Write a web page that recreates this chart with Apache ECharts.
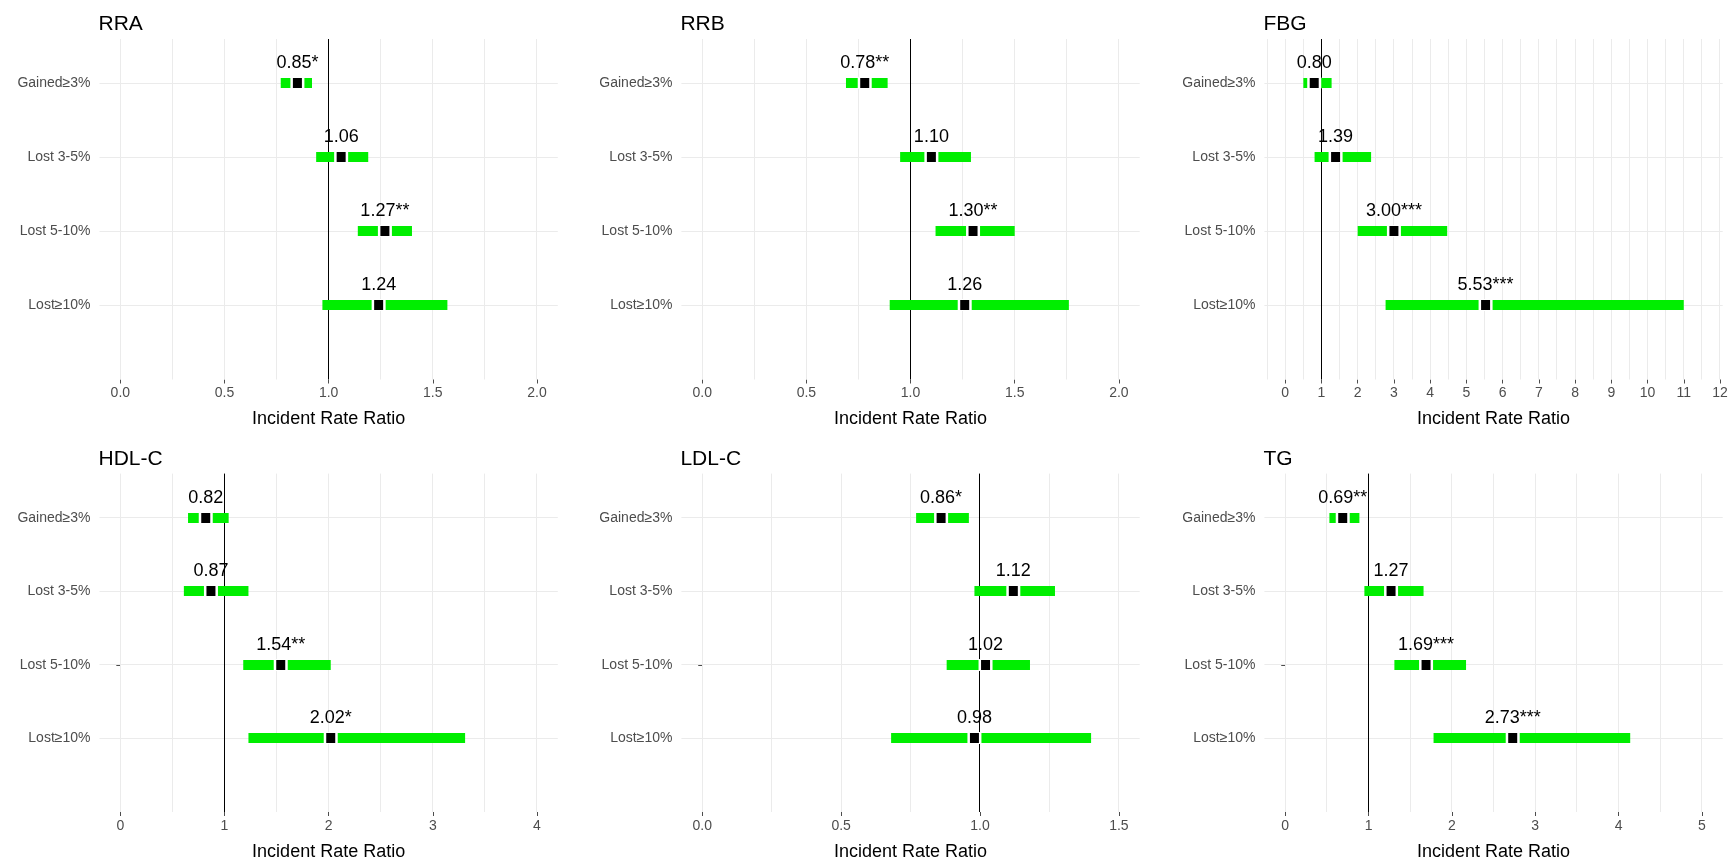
<!DOCTYPE html>
<html><head><meta charset="utf-8">
<script src="https://cdn.jsdelivr.net/npm/echarts@6/dist/echarts.min.js"></script>
<style>html,body{margin:0;padding:0;background:#fff}#c{width:1733px;height:862px}</style>
</head><body><div id="c"></div>
<script>
// ---------- data ----------
const categories = ['Gained\u22653%', 'Lost 3-5%', 'Lost 5-10%', 'Lost\u226510%'];
const panelTitles = ['RRA', 'RRB', 'FBG', 'HDL-C', 'LDL-C', 'TG'];
const axisTitle = 'Incident Rate Ratio';

const rraEst  = [0.85, 1.06, 1.27, 1.24];
const rraLow  = [0.77, 0.94, 1.14, 0.97];
const rraHigh = [0.92, 1.19, 1.40, 1.57];
const rraSig  = ['*', '', '**', ''];
const rraTicks = ['0.0', '0.5', '1.0', '1.5', '2.0'];

const rrbEst  = [0.78, 1.10, 1.30, 1.26];
const rrbLow  = [0.69, 0.95, 1.12, 0.90];
const rrbHigh = [0.89, 1.29, 1.50, 1.76];
const rrbSig  = ['**', '', '**', ''];
const rrbTicks = ['0.0', '0.5', '1.0', '1.5', '2.0'];

const fbgEst  = [0.80, 1.39, 3.00, 5.53];
const fbgLow  = [0.50, 0.81, 2.00, 2.77];
const fbgHigh = [1.28, 2.37, 4.47, 11.00];
const fbgSig  = ['', '', '***', '***'];
const fbgTicks = ['0', '1', '2', '3', '4', '5', '6', '7', '8', '9', '10', '11', '12'];

const hdlEst  = [0.82, 0.87, 1.54, 2.02];
const hdlLow  = [0.65, 0.61, 1.18, 1.23];
const hdlHigh = [1.04, 1.23, 2.02, 3.31];
const hdlSig  = ['', '', '**', '*'];
const hdlTicks = ['0', '1', '2', '3', '4'];

const ldlEst  = [0.86, 1.12, 1.02, 0.98];
const ldlLow  = [0.77, 0.98, 0.88, 0.68];
const ldlHigh = [0.96, 1.27, 1.18, 1.40];
const ldlSig  = ['*', '', '', ''];
const ldlTicks = ['0.0', '0.5', '1.0', '1.5'];

const tgEst  = [0.69, 1.27, 1.69, 2.73];
const tgLow  = [0.53, 0.95, 1.31, 1.78];
const tgHigh = [0.89, 1.66, 2.17, 4.14];
const tgSig  = ['**', '', '***', '***'];
const tgTicks = ['0', '1', '2', '3', '4', '5'];

const refValue = 1;

// ---------- layout ----------
const panels = [
  {est: rraEst, low: rraLow, high: rraHigh, sig: rraSig, ticks: rraTicks, range: [-0.1, 2.1]},
  {est: rrbEst, low: rrbLow, high: rrbHigh, sig: rrbSig, ticks: rrbTicks, range: [-0.1, 2.1]},
  {est: fbgEst, low: fbgLow, high: fbgHigh, sig: fbgSig, ticks: fbgTicks, range: [-0.575, 12.075]},
  {est: hdlEst, low: hdlLow, high: hdlHigh, sig: hdlSig, ticks: hdlTicks, range: [-0.2, 4.2]},
  {est: ldlEst, low: ldlLow, high: ldlHigh, sig: ldlSig, ticks: ldlTicks, range: [-0.075, 1.575]},
  {est: tgEst, low: tgLow, high: tgHigh, sig: tgSig, ticks: tgTicks, range: [-0.25, 5.25]}
];
const colLeft = [99.5, 681.4, 1264.4];
const rowTop = [39, 473.6];
const gridW = 458.3, gridH = 340.5;
const titleTop = [9, 444];
const FONT = '"Liberation Sans", Arial, sans-serif';
const GREEN = '#00EE00';
const Y_MIN = 0.4, Y_MAX = 5.0;

const grids = [], xAxes = [], yAxes = [], series = [], titles = [];

function crisp(v) { return Math.round(v - 0.5) + 0.5; }

panels.forEach((p, i) => {
  const col = i % 3, row = Math.floor(i / 3);
  const tickVals = p.ticks.map(Number);
  const step = tickVals[1] - tickVals[0];
  const gridVals = [];
  for (let k = -1; k <= tickVals.length; k++) {
    const major = tickVals[0] + k * step;
    const minor = major + step / 2;
    [major, minor].forEach(v => {
      if (v >= p.range[0] && v <= p.range[1]) gridVals.push(v);
    });
  }
  grids.push({left: colLeft[col], top: rowTop[row], width: gridW, height: gridH, containLabel: false});
  titles.push({text: panelTitles[i], left: colLeft[col] - 6, top: titleTop[row],
    textStyle: {fontSize: 21, fontWeight: 'normal', color: '#000', fontFamily: FONT}});
  xAxes.push({
    gridIndex: i, type: 'value', min: p.range[0], max: p.range[1],
    axisLine: {show: false},
    axisTick: {show: true, customValues: tickVals, length: 4, lineStyle: {color: '#4D4D4D'}},
    axisLabel: {customValues: tickVals, color: '#4D4D4D', fontSize: 14, margin: 7, fontFamily: FONT,
      formatter: v => { const idx = tickVals.findIndex(t => Math.abs(t - v) < 1e-9); return idx >= 0 ? p.ticks[idx] : ''; }},
    splitLine: {show: false},
    name: axisTitle, nameLocation: 'middle', nameGap: 31,
    nameTextStyle: {fontSize: 18, color: '#000', fontFamily: FONT}
  });
  yAxes.push({
    gridIndex: i, type: 'value', inverse: true, min: Y_MIN, max: Y_MAX,
    axisLine: {show: false},
    axisTick: {show: true, customValues: [1, 2, 3, 4], length: 4, lineStyle: {color: '#4D4D4D'}},
    axisLabel: {customValues: [1, 2, 3, 4], color: '#4D4D4D', fontSize: 14, margin: 9, fontFamily: FONT,
      formatter: v => categories[Math.round(v) - 1] || ''},
    splitLine: {show: false}
  });
  // vertical gridlines
  series.push({
    type: 'custom', xAxisIndex: i, yAxisIndex: i, silent: true, z: 1,
    data: gridVals.map(v => [v, 1]),
    renderItem: (params, api) => {
      const cs = params.coordSys;
      const x = crisp(api.coord([api.value(0), 1])[0]);
      return {type: 'line', shape: {x1: x, y1: cs.y, x2: x, y2: cs.y + cs.height},
        style: {stroke: '#EBEBEB', lineWidth: 1}};
    }
  });
  // horizontal gridlines
  series.push({
    type: 'custom', xAxisIndex: i, yAxisIndex: i, silent: true, z: 1,
    data: categories.map((c, k) => [p.range[0], k + 1]),
    renderItem: (params, api) => {
      const cs = params.coordSys;
      const y = crisp(api.coord([api.value(0), api.value(1)])[1]);
      return {type: 'line', shape: {x1: cs.x, y1: y, x2: cs.x + cs.width, y2: y},
        style: {stroke: '#EBEBEB', lineWidth: 1}};
    }
  });
  // reference line
  series.push({
    type: 'custom', xAxisIndex: i, yAxisIndex: i, silent: true, z: 2,
    data: [[refValue, 1]],
    renderItem: (params, api) => {
      const cs = params.coordSys;
      const x = crisp(api.coord([api.value(0), 1])[0]);
      return {type: 'line', shape: {x1: x, y1: cs.y, x2: x, y2: cs.y + cs.height},
        style: {stroke: '#000', lineWidth: 1}};
    }
  });
  // CI bars + point estimates + labels
  series.push({
    type: 'custom', xAxisIndex: i, yAxisIndex: i, silent: true, z: 3,
    data: categories.map((c, k) => [p.low[k], p.high[k], p.est[k], k + 1]),
    renderItem: (params, api) => {
      const k = params.dataIndex;
      const lv = api.value(3);
      const lo = api.coord([api.value(0), lv]);
      const hi = api.coord([api.value(1), lv]);
      const pt = api.coord([api.value(2), lv]);
      const h = 10;
      const y0 = Math.round(pt[1] - h / 2);
      return {type: 'group', children: [
        {type: 'rect', shape: {x: lo[0], y: y0, width: hi[0] - lo[0], height: h}, style: {fill: GREEN}},
        {type: 'rect', shape: {x: pt[0] - 7, y: y0 - 1, width: 14, height: h + 2}, style: {fill: '#fff'}},
        {type: 'rect', shape: {x: pt[0] - 4.5, y: y0, width: 9, height: h}, style: {fill: '#000'}},
        {type: 'text', x: pt[0], y: pt[1] - 20, style: {
          text: p.est[k].toFixed(2) + p.sig[k], align: 'center', verticalAlign: 'middle',
          fontSize: 18, fontFamily: FONT, fill: '#000'}}
      ]};
    }
  });
});

const chart = echarts.init(document.getElementById('c'), null, {renderer: 'canvas'});
chart.setOption({
  backgroundColor: '#fff',
  animation: false,
  textStyle: {fontFamily: FONT},
  title: titles,
  grid: grids,
  xAxis: xAxes,
  yAxis: yAxes,
  series: series
});
</script>
</body></html>
